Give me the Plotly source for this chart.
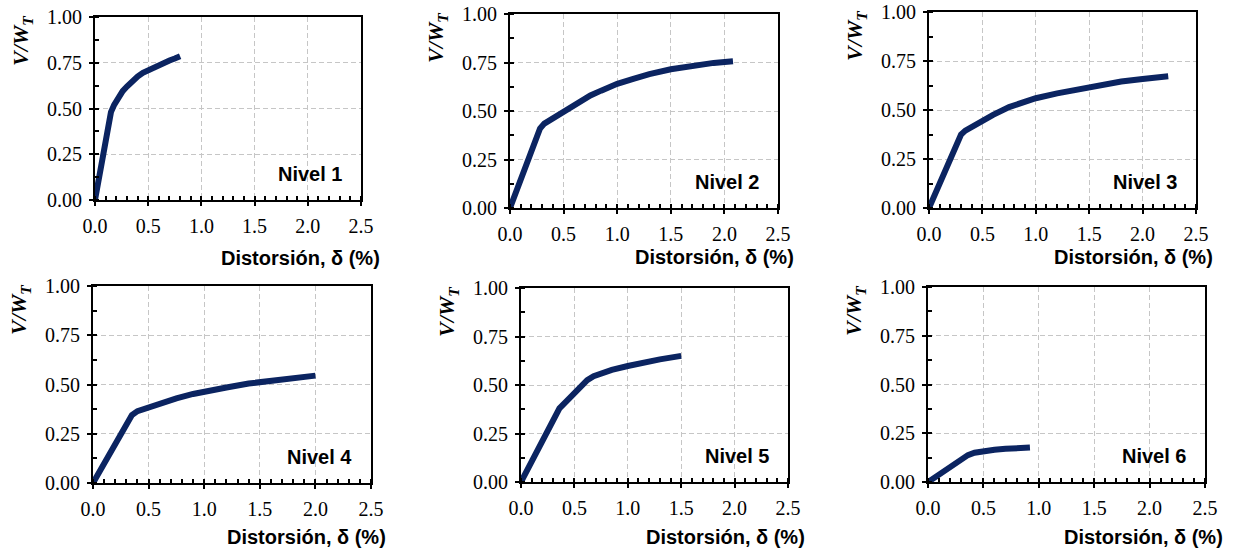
import plotly.graph_objects as go

# ---------------- data ----------------
levels = ["Nivel 1", "Nivel 2", "Nivel 3", "Nivel 4", "Nivel 5", "Nivel 6"]

drift_n1 = [0, 0.04, 0.08, 0.12, 0.15, 0.18, 0.22, 0.26, 0.30, 0.35, 0.40, 0.45,
            0.50, 0.55, 0.60, 0.65, 0.70, 0.75, 0.80]
shear_n1 = [0, 0.14, 0.28, 0.42, 0.48, 0.52, 0.56, 0.595, 0.62, 0.65, 0.675, 0.695,
            0.71, 0.725, 0.738, 0.75, 0.762, 0.773, 0.785]

drift_n2 = [0, 0.10, 0.20, 0.28, 0.32, 0.38, 0.45, 0.55, 0.65, 0.75, 0.85, 1.00,
            1.15, 1.30, 1.50, 1.70, 1.90, 2.08]
shear_n2 = [0, 0.145, 0.29, 0.41, 0.435, 0.455, 0.475, 0.515, 0.55, 0.58, 0.605, 0.64,
            0.665, 0.69, 0.715, 0.735, 0.748, 0.757]

drift_n3 = [0, 0.10, 0.20, 0.30, 0.34, 0.40, 0.50, 0.60, 0.75, 0.90, 1.00, 1.20,
            1.40, 1.60, 1.80, 2.00, 2.24]
shear_n3 = [0, 0.13, 0.255, 0.375, 0.395, 0.415, 0.445, 0.475, 0.515, 0.545, 0.56, 0.585,
            0.607, 0.628, 0.645, 0.658, 0.672]

drift_n4 = [0, 0.10, 0.20, 0.30, 0.35, 0.40, 0.50, 0.60, 0.75, 0.90, 1.00, 1.20,
            1.40, 1.60, 1.80, 2.00]
shear_n4 = [0, 0.10, 0.20, 0.30, 0.345, 0.365, 0.385, 0.405, 0.43, 0.452, 0.465, 0.485,
            0.505, 0.52, 0.533, 0.545]

drift_n5 = [0, 0.10, 0.20, 0.30, 0.36, 0.45, 0.55, 0.62, 0.68, 0.75, 0.85, 1.00,
            1.15, 1.30, 1.50]
shear_n5 = [0, 0.11, 0.22, 0.33, 0.38, 0.43, 0.49, 0.525, 0.545, 0.56, 0.578, 0.598,
            0.617, 0.632, 0.65]

drift_n6 = [0, 0.10, 0.20, 0.30, 0.36, 0.42, 0.50, 0.60, 0.70, 0.80, 0.92]
shear_n6 = [0, 0.04, 0.08, 0.12, 0.138, 0.15, 0.158, 0.165, 0.17, 0.174, 0.177]

x_tick_vals = [0, 0.5, 1.0, 1.5, 2.0, 2.5]
x_tick_text = ["0.0", "0.5", "1.0", "1.5", "2.0", "2.5"]
y_tick_vals = [0, 0.25, 0.5, 0.75, 1.0]
y_tick_text = ["0.00", "0.25", "0.50", "0.75", "1.00"]

x_title = "Distorsión, δ (%)"
y_title = "<b><i>V/W<sub>T</sub></i></b>"

drifts = [drift_n1, drift_n2, drift_n3, drift_n4, drift_n5, drift_n6]
shears = [shear_n1, shear_n2, shear_n3, shear_n4, shear_n5, shear_n6]

# ---------------- layout geometry (pixels) ----------------
W, H = 1234, 550
# (left, right, top, bottom) of each plot area
boxes = [(95, 361, 17, 200), (510, 778, 14, 208), (929, 1196, 12, 208),
         (93, 371, 286, 483), (521, 788, 288, 482), (928, 1205, 287, 482)]
# x-title (right edge, vertical centre) per panel
xtitle_pos = [(382, 258), (796, 257), (1215, 257), (388, 537), (807, 537), (1225, 537)]

LINE_COLOR = "#0b2461"
SERIF = "Liberation Serif"
SANS = "Liberation Sans"

fig = go.Figure()
layout = dict(
    width=W, height=H, autosize=False,
    margin=dict(l=0, r=0, t=0, b=0, pad=0, autoexpand=False),
    paper_bgcolor="white", plot_bgcolor="white", showlegend=False,
)
annotations = []

for i, (l, r, t, b) in enumerate(boxes):
    n = i + 1
    xs = "" if n == 1 else str(n)
    xd = [l / W, r / W]
    yd = [1 - b / H, 1 - t / H]

    fig.add_trace(go.Scatter(
        x=drifts[i], y=shears[i], mode="lines",
        line=dict(color=LINE_COLOR, width=6),
        xaxis="x" + xs, yaxis="y" + xs, hoverinfo="x+y",
    ))

    common = dict(
        showline=True, linecolor="black", linewidth=2, mirror=True,
        ticks="outside", ticklen=4, tickwidth=2, tickcolor="black",
        showgrid=True, gridcolor="#c6c6c6", gridwidth=1, griddash="5px,3px",
        zeroline=False, tickfont=dict(family=SERIF, size=20, color="black"),
        fixedrange=True, automargin=False,
    )
    layout["xaxis" + xs] = dict(
        common, domain=xd, range=[0, 2.5], anchor="y" + xs,
        tickmode="array", tickvals=x_tick_vals, ticktext=x_tick_text,
        minor=dict(ticks="inside", ticklen=4, tickwidth=2, tickcolor="black",
                   tick0=0, dtick=0.1, showgrid=False),
        ticklabelstandoff=3,
    )
    layout["yaxis" + xs] = dict(
        common, domain=yd, range=[0, 1], anchor="x" + xs,
        tickmode="array", tickvals=y_tick_vals, ticktext=y_tick_text,
        minor=dict(ticks="inside", ticklen=4, tickwidth=2, tickcolor="black",
                   tick0=0, dtick=0.125, showgrid=False),
        ticklabelstandoff=3,
    )
    # overlay axes giving the inner half of the crossing major ticks
    on = str(n + 6)
    layout["xaxis" + on] = dict(
        domain=xd, range=[0, 2.5], anchor="y" + xs, overlaying="x" + xs,
        tickmode="array", tickvals=x_tick_vals, ticks="inside", ticklen=4,
        tickwidth=2, tickcolor="black", showticklabels=False, showgrid=False,
        showline=False, zeroline=False, fixedrange=True, automargin=False,
    )
    layout["yaxis" + on] = dict(
        domain=yd, range=[0, 1], anchor="x" + xs, overlaying="y" + xs,
        tickmode="array", tickvals=y_tick_vals, ticks="inside", ticklen=4,
        tickwidth=2, tickcolor="black", showticklabels=False, showgrid=False,
        showline=False, zeroline=False, fixedrange=True, automargin=False,
    )

    # x-axis title
    tx, ty = xtitle_pos[i]
    annotations.append(dict(
        text="<b>" + x_title + "</b>", xref="paper", yref="paper",
        x=tx / W, y=1 - ty / H, xanchor="right", yanchor="middle",
        showarrow=False, font=dict(family=SANS, size=20, color="black"),
    ))
    # y-axis title
    annotations.append(dict(
        text=y_title, xref="paper", yref="paper",
        x=(l - 73) / W, y=1 - (t - 3) / H, xanchor="center", yanchor="top",
        textangle=-90, showarrow=False,
        font=dict(family=SERIF, size=22, color="black"),
    ))
    # level label
    annotations.append(dict(
        text="<b>" + levels[i] + "</b>", xref="paper", yref="paper",
        x=(r - 17) / W, y=1 - (b - 26) / H, xanchor="right", yanchor="middle",
        showarrow=False, font=dict(family=SANS, size=20, color="black"),
    ))

layout["annotations"] = annotations
fig.update_layout(**layout)
fig.write_html("out.html")
